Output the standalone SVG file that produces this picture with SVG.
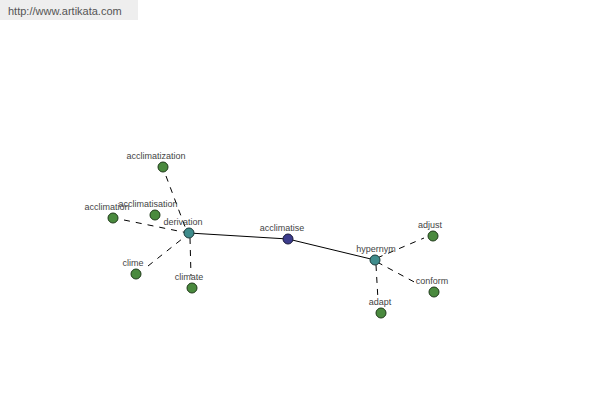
<svg xmlns="http://www.w3.org/2000/svg" width="600" height="400" viewBox="0 0 600 400">
<style>
text{font-family:"Liberation Sans",Arial,sans-serif;font-size:9px;fill:#444;text-anchor:middle}
.leaf{fill:#4a8a3e;stroke:#1f3a1a;stroke-width:1}
.hub{fill:#3f8c8c;stroke:#1a3a3a;stroke-width:1}
.root{fill:#3c3c8c;stroke:#1a1a3a;stroke-width:1}
.solid{stroke:#000;stroke-width:1;fill:none}
.dash{stroke:#000;stroke-width:1;fill:none;stroke-dasharray:6,6}
</style>
<rect x="0" y="0" width="600" height="400" fill="#fff"/>
<rect x="0" y="0" width="138" height="20" fill="#eeeeee"/>
<text x="8" y="15" style="text-anchor:start;font-size:11px;fill:#555">http://www.artikata.com</text>
<g id="connectors">
<line class="solid" x1="189" y1="233" x2="288" y2="239"/>
<line class="solid" x1="288" y1="239" x2="375" y2="260"/>
<line class="dash" x1="166" y1="176" x2="187" y2="232"/>
<line class="dash" x1="124" y1="220" x2="188" y2="233"/>
<line class="dash" x1="148" y1="266" x2="187" y2="235"/>
<line class="dash" x1="190" y1="238" x2="191" y2="276"/>
<line class="dash" x1="377" y1="258" x2="424" y2="238"/>
<line class="dash" x1="377" y1="262" x2="418" y2="284"/>
<line class="dash" x1="376" y1="265" x2="378" y2="300"/>
</g>
<g id="acclimatise"><circle class="root" cx="288" cy="239" r="5"/><text x="282" y="231">acclimatise</text></g>
<g id="derivation"><circle class="hub" cx="189" cy="233" r="5"/><text x="183" y="225">derivation</text></g>
<g id="hypernym"><circle class="hub" cx="375" cy="260" r="5"/><text x="376" y="252">hypernym</text></g>
<g id="acclimatization"><circle class="leaf" cx="163" cy="167" r="5"/><text x="156" y="159">acclimatization</text></g>
<g id="acclimatisation"><circle class="leaf" cx="155" cy="215" r="5"/><text x="148" y="207">acclimatisation</text></g>
<g id="acclimation"><circle class="leaf" cx="113" cy="218" r="5"/><text x="107" y="210">acclimation</text></g>
<g id="clime"><circle class="leaf" cx="136" cy="274" r="5"/><text x="133" y="266">clime</text></g>
<g id="climate"><circle class="leaf" cx="192" cy="288" r="5"/><text x="189" y="280">climate</text></g>
<g id="adjust"><circle class="leaf" cx="433" cy="236" r="5"/><text x="430" y="228">adjust</text></g>
<g id="conform"><circle class="leaf" cx="434" cy="292" r="5"/><text x="432" y="284">conform</text></g>
<g id="adapt"><circle class="leaf" cx="381" cy="313" r="5"/><text x="380" y="305">adapt</text></g>
</svg>
